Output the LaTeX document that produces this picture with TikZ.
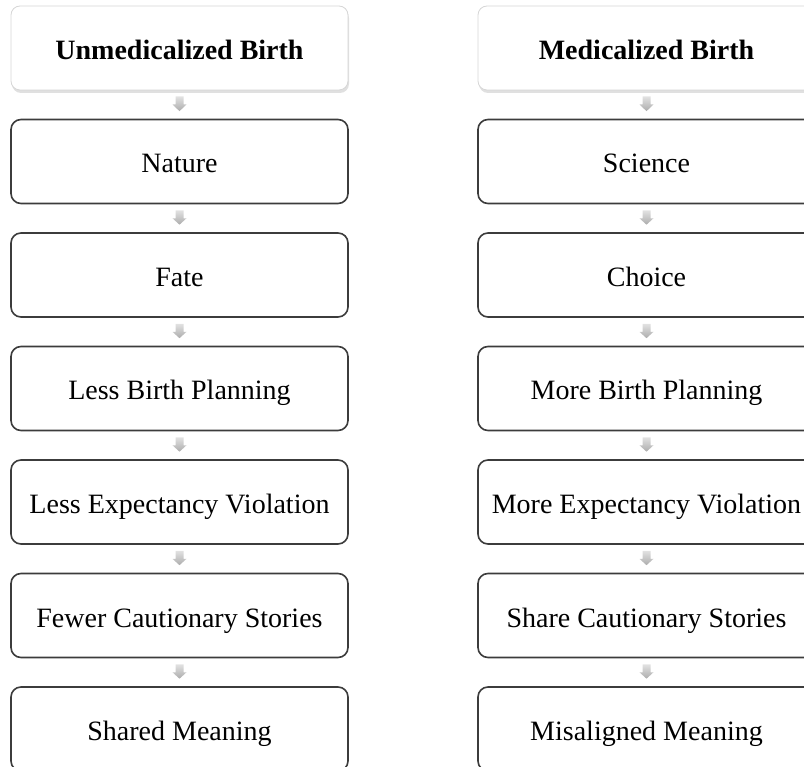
\documentclass[tikz,border=0pt]{standalone}
\usepackage{fontspec}
\setmainfont{Liberation Serif}
\usetikzlibrary{calc,shadows}
\definecolor{boxline}{HTML}{3C3C3C}
\definecolor{headline}{HTML}{D6D6D6}
\definecolor{arrtop}{HTML}{E2E2E2}
\definecolor{arrbot}{HTML}{ACACAC}
\tikzset{
  stepbox/.style={draw=boxline, line width=1.6pt, rounded corners=10pt, fill=white,
    minimum width=337pt, minimum height=84pt, inner sep=0pt,
    text height=26pt, text depth=3pt,
    font=\fontsize{28}{32}\selectfont},
  headbox/.style={draw=headline, line width=0.8pt, rounded corners=9pt, fill=white,
    minimum width=337pt, minimum height=84pt, inner sep=0pt,
    text height=26pt, text depth=3pt,
    drop shadow={shadow xshift=1pt, shadow yshift=-3pt, opacity=0.35, fill=gray!70},
    font=\fontsize{28}{32}\selectfont\bfseries},
  arrowshade/.style={top color=arrtop, bottom color=arrbot, draw=none}
}
\newcommand{\blockarrow}[2]{%
  \path[arrowshade]
    ($(#1.south)+(-4,-6)$) -- ($(#1.south)+(4,-6)$) -- ($(#1.south)+(4,-14)$)
    -- ($(#1.south)+(7,-14)$) -- ($(#2.north)+(0,7.5)$) -- ($(#1.south)+(-7,-14)$)
    -- ($(#1.south)+(-4,-14)$) -- cycle;}
\begin{document}
\begin{tikzpicture}[x=1pt,y=1pt]
\useasboundingbox (0,0) rectangle (804,-767);
% left column
\node[headbox] (L0) at (179.5,-48) {Unmedicalized Birth};
\node[stepbox] (L1) at (179.5,-161.5) {Nature};
\node[stepbox] (L2) at (179.5,-275) {Fate};
\node[stepbox] (L3) at (179.5,-388.5) {Less Birth Planning};
\node[stepbox] (L4) at (179.5,-502) {Less Expectancy Violation};
\node[stepbox] (L5) at (179.5,-615.5) {Fewer Cautionary Stories};
\node[stepbox] (L6) at (179.5,-729) {Shared Meaning};
% right column
\node[headbox] (R0) at (646.5,-48) {Medicalized Birth};
\node[stepbox] (R1) at (646.5,-161.5) {Science};
\node[stepbox] (R2) at (646.5,-275) {Choice};
\node[stepbox] (R3) at (646.5,-388.5) {More Birth Planning};
\node[stepbox] (R4) at (646.5,-502) {More Expectancy Violation};
\node[stepbox] (R5) at (646.5,-615.5) {Share Cautionary Stories};
\node[stepbox] (R6) at (646.5,-729) {Misaligned Meaning};
% connectors
\blockarrow{L0}{L1}\blockarrow{L1}{L2}\blockarrow{L2}{L3}
\blockarrow{L3}{L4}\blockarrow{L4}{L5}\blockarrow{L5}{L6}
\blockarrow{R0}{R1}\blockarrow{R1}{R2}\blockarrow{R2}{R3}
\blockarrow{R3}{R4}\blockarrow{R4}{R5}\blockarrow{R5}{R6}
\end{tikzpicture}
\end{document}
